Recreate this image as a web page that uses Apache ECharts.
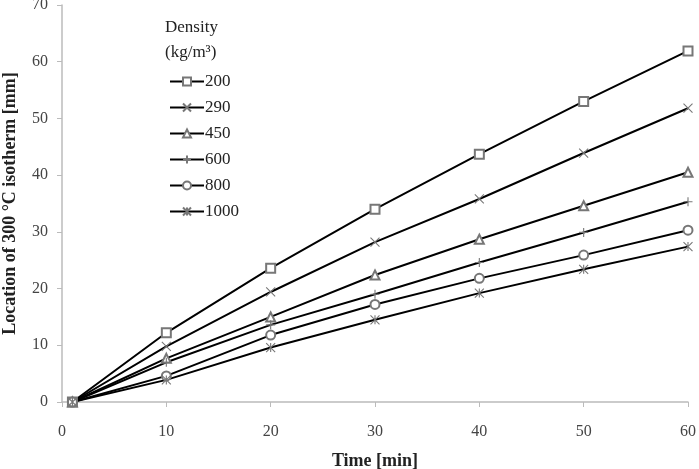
<!DOCTYPE html>
<html>
<head>
<meta charset="utf-8">
<script src="https://cdn.jsdelivr.net/npm/echarts@6/dist/echarts.min.js"></script>
<style>
  html, body { margin: 0; padding: 0; background: #fff; }
  #chart { width: 699px; height: 469px; }
</style>
</head>
<body>
<div id="chart"></div>
<script>
const times = [1, 10, 20, 30, 40, 50, 60];
const densities = ['200', '290', '450', '600', '800', '1000'];
const d200 = [0, 12.2, 23.6, 34.0, 43.7, 53.0, 61.9];
const d290 = [0, 9.8, 19.4, 28.2, 35.8, 43.9, 51.8];
const d450 = [0, 7.7, 15.0, 22.4, 28.7, 34.6, 40.5];
const d600 = [0, 7.0, 13.6, 19.0, 24.6, 29.9, 35.3];
const d800 = [0, 4.6, 11.8, 17.2, 21.8, 25.9, 30.3];
const d1000 = [0, 3.9, 9.6, 14.5, 19.2, 23.4, 27.4];

const FONT = '"Liberation Serif", "Times New Roman", serif';
const symbols = [
    'emptyRect',
    'path://M0,0 L10,10 M10,0 L0,10',
    'emptyTriangle',
    'path://M5,0 L5,10 M0,5 L10,5',
    'emptyCircle',
    'path://M0,0 L10,10 M10,0 L0,10 M5,0 L5,10'
];
const allData = [d200, d290, d450, d600, d800, d1000];

const series = densities.map(function (name, i) {
    return {
        name: name,
        type: 'line',
        data: times.map(function (t, j) { return [t, allData[i][j]]; }),
        symbol: symbols[i],
        symbolSize: 9,
        showAllSymbol: true,
        lineStyle: { color: '#000', width: 2 },
        itemStyle: { color: '#777', borderColor: '#777', borderWidth: 1.1 },
        emphasis: { disabled: true },
        z: 2
    };
});

const option = {
    animation: false,
    backgroundColor: '#fff',
    grid: { left: 62, right: 11, top: 5, bottom: 67, outerBoundsMode: 'none' },
    graphic: [{
        type: 'text',
        left: 165,
        top: 15,
        style: {
            text: 'Density\n(kg/m³)',
            font: '17px ' + FONT,
            fill: '#222',
            lineHeight: 25
        }
    }],
    legend: {
        orient: 'vertical',
        left: 164,
        top: 68,
        itemWidth: 34,
        itemHeight: 10,
        itemGap: 9,
        textStyle: { fontFamily: FONT, fontSize: 17, color: '#222', padding: [0, 0, 0, -4] },
        data: densities
    },
    xAxis: {
        type: 'value',
        min: 0,
        max: 60,
        interval: 10,
        name: 'Time [min]',
        nameLocation: 'middle',
        nameGap: 50,
        nameTextStyle: { fontFamily: FONT, fontSize: 18, fontWeight: 'bold', color: '#222' },
        axisLine: { lineStyle: { color: '#bbb', width: 1.5 } },
        axisTick: { lineStyle: { color: '#bbb' }, length: 5 },
        axisLabel: { fontFamily: FONT, fontSize: 16, color: '#444', margin: 22 },
        splitLine: { show: false }
    },
    yAxis: {
        type: 'value',
        min: 0,
        max: 70,
        interval: 10,
        name: 'Location of 300 °C isotherm [mm]',
        nameLocation: 'middle',
        nameGap: 43,
        nameTextStyle: { fontFamily: FONT, fontSize: 18, fontWeight: 'bold', color: '#222' },
        axisLine: { show: true, lineStyle: { color: '#bbb', width: 1.5 } },
        axisTick: { show: true, lineStyle: { color: '#bbb' }, length: 5 },
        axisLabel: { fontFamily: FONT, fontSize: 16, color: '#444', margin: 14 },
        splitLine: { show: false }
    },
    series: series
};

const chart = echarts.init(document.getElementById('chart'));
chart.setOption(option);
</script>
</body>
</html>
